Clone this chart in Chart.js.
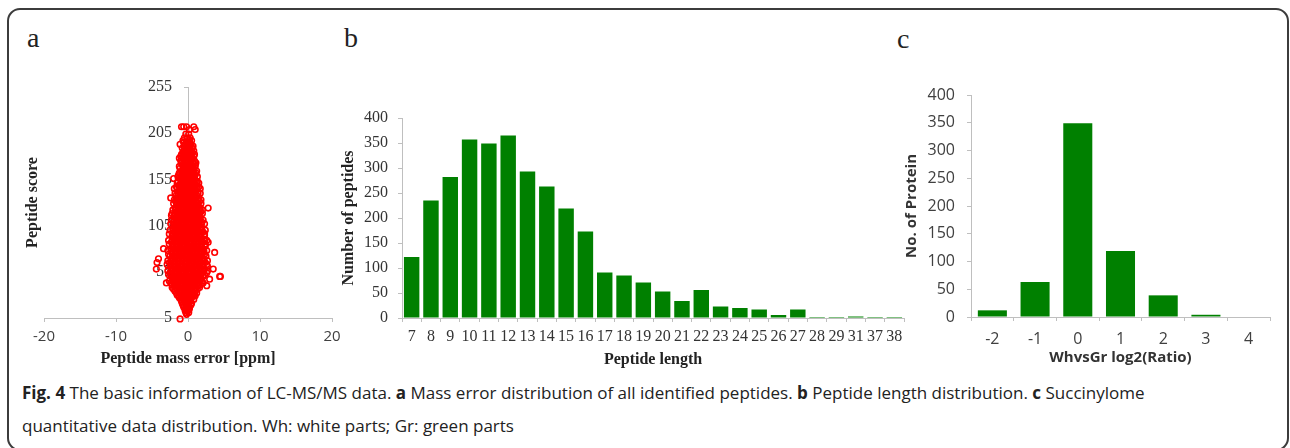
<!DOCTYPE html>
<html><head><meta charset="utf-8">
<script src="https://cdn.jsdelivr.net/npm/chart.js@4.4.1/dist/chart.umd.min.js"></script>
<style>
html,body{margin:0;padding:0;background:#fff;width:1290px;height:448px;overflow:hidden;}
#frame{position:absolute;left:7px;top:8px;width:1282px;height:443px;border:2px solid #3c3c3c;border-radius:13px;box-sizing:border-box;}
canvas{position:absolute;}
.lbl{position:absolute;font-family:'Liberation Serif','Times New Roman',serif;font-size:28px;line-height:28px;color:#222;}
#caption{position:absolute;left:22px;top:376px;font-family:'Open Sans',sans-serif;font-size:17px;line-height:33px;color:#222;white-space:nowrap;transform-origin:0 0;}
#caption b{font-weight:700;}
</style></head><body>
<div id="frame"></div>
<div class="lbl" style="left:27px;top:24px">a</div>
<div class="lbl" style="left:344px;top:24px">b</div>
<div class="lbl" style="left:897px;top:25px">c</div>
<canvas id="ca" width="330" height="300" style="left:20px;top:70px"></canvas>
<canvas id="cb" width="580" height="300" style="left:335px;top:70px"></canvas>
<canvas id="cc" width="400" height="310" style="left:880px;top:60px"></canvas>
<div id="caption"><span id="l1"><b>Fig. 4</b> The basic information of LC-MS/MS data. <b>a</b> Mass error distribution of all identified peptides. <b>b</b> Peptide length distribution. <b>c</b> Succinylome</span><br><span>quantitative data distribution. Wh: white parts; Gr: green parts</span></div>
<script>
// ---- Panel a: peptide score vs mass error ----
const errorTicks = [-20, -10, 0, 10, 20];
const scoreTicks = [5, 55, 105, 155, 205, 255];
const scoreLevels = [212,209,204,200,197,193,189,186,182,178,175,171,167,164,160,156,153,149,145,142,138,135,131,127,124,120,116,113,109,105,102,98,94,91,87,83,80,76,72,69,65,61,58,54,50,47,43,40,36,32,29,25,21,17,13,9,4];
const errorsAtLevel = [
 [-0.9,-0.6,-0.2,0.8],
 [0.2,1.0],
 [-0.3,0.1],
 [-0.5,-0.1,0.3],
 [-0.7,0.2,0.5],
 [-1.1,-0.4,0,0.4],
 [-0.8,-0.3,0.1,0.6],
 [-0.6,-0.1,0.3,0.8],
 [-0.9,-0.4,0,0.5,0.9],
 [-1.2,-0.7,-0.2,0.2,0.6],
 [-1.0,-0.5,-0.1,0.4,0.9],
 [-0.8,-0.3,0.1,0.5,1.0],
 [-1.1,-0.6,-0.2,0.3,0.7],
 [-0.9,-0.4,0,0.4,0.8,1.2],
 [-1.3,-0.8,-0.3,0.1,0.6,1.0],
 [-2.0,-1.1,-0.6,-0.1,0.3,0.8],
 [-1.4,-0.9,-0.4,0,0.5,1.0,1.3],
 [-1.2,-0.7,-0.2,0.2,0.7,1.1],
 [-1.9,-1.5,-1.0,-0.5,0,0.4,0.9,1.3,1.7],
 [-1.3,-0.8,-0.3,0.2,0.6,1.1],
 [-1.6,-1.1,-0.6,-0.1,0.3,0.8,1.2],
 [-2.4,-1.4,-0.9,-0.4,0.1,0.5,1.0,1.5],
 [-1.7,-1.2,-0.7,-0.2,0.2,0.7,1.2,1.6],
 [-1.5,-1.0,-0.5,0,0.4,0.9,1.4],
 [-1.8,-1.3,-0.8,-0.3,0.2,0.6,1.1,1.7,2.8],
 [-1.6,-1.1,-0.6,-0.1,0.3,0.8,1.3,1.8],
 [-2.3,-1.9,-1.4,-0.9,-0.4,0.1,0.5,1.0,1.5],
 [-1.7,-1.2,-0.7,-0.2,0.2,0.7,1.2,1.7],
 [-2.0,-1.5,-1.0,-0.5,0,0.4,0.9,1.4,1.9],
 [-1.8,-1.3,-0.8,-0.3,0.2,0.6,1.1,1.6],
 [-2.1,-1.6,-1.1,-0.6,-0.1,0.3,0.8,1.3,1.8],
 [-1.9,-1.4,-0.9,-0.4,0.1,0.5,1.0,1.5,2.1],
 [-2.2,-1.7,-1.2,-0.7,-0.2,0.2,0.7,1.2,1.7,2.3],
 [-2.0,-1.5,-1.0,-0.5,0,0.4,0.9,1.4,1.9],
 [-2.3,-1.8,-1.3,-0.8,-0.3,0.2,0.6,1.1,1.6,2.1,2.8],
 [-2.1,-1.6,-1.1,-0.6,-0.1,0.3,0.8,1.3,1.8,2.4],
 [-3.4,-2.4,-1.9,-1.4,-0.9,-0.4,0.1,0.5,1.0,1.5,2.0],
 [-2.2,-1.7,-1.2,-0.7,-0.2,0.2,0.7,1.2,1.7,2.2,3.7],
 [-2.5,-2.0,-1.5,-1.0,-0.5,0,0.4,0.9,1.4,1.9,2.5],
 [-4.1,-2.3,-1.8,-1.3,-0.8,-0.3,0.2,0.6,1.1,1.6,2.1],
 [-4.3,-2.6,-2.1,-1.6,-1.1,-0.6,-0.1,0.3,0.8,1.3,1.8,2.4],
 [-2.4,-1.9,-1.4,-0.9,-0.4,0.1,0.5,1.0,1.5,2.0,2.7],
 [-4.4,-2.2,-1.7,-1.2,-0.7,-0.2,0.2,0.7,1.2,1.7,2.3,3.5],
 [-2.5,-2.0,-1.5,-1.0,-0.5,0,0.4,0.9,1.4,1.9,2.6],
 [-2.3,-1.8,-1.3,-0.8,-0.3,0.2,0.6,1.1,1.6,2.1,4.4,4.5],
 [-2.1,-1.6,-1.1,-0.6,-0.1,0.3,0.8,1.3,1.8,3.0],
 [-3.0,-2.4,-1.9,-1.4,-0.9,-0.4,0.1,0.5,1.0,1.5,2.1],
 [-1.9,-1.4,-0.9,-0.4,0,0.4,0.9,1.4,2.6],
 [-2.0,-1.5,-1.0,-0.5,-0.1,0.3,0.8,1.3],
 [-1.6,-1.1,-0.6,-0.2,0.2,0.7,1.2],
 [-1.3,-0.8,-0.3,0.1,0.6,1.0],
 [-1.0,-0.5,-0.1,0.3,0.8],
 [-0.8,-0.3,0.1,0.5],
 [-0.6,-0.2,0.2],
 [-0.4,0],
 [-0.2],
 [-1.1]
];
// second, in-between layer of the dense core
const coreScoreLevels = [195,191,184,180,173,169,162,158,151,147,140,133,129,122,118,111,107,100,96,89,85,78,74,67,63,56,52,45,41,38,34,30,27,23,19,15,11];
const coreErrorsAtLevel = [
 [-0.6,-0.2,0.2],
 [-0.5,-0.1,0.3,0.7],
 [-0.7,-0.2,0.2,0.6],
 [-1.0,-0.5,0,0.4,0.8],
 [-0.9,-0.4,0,0.3,0.7,1.1],
 [-1.2,-0.7,-0.3,0.2,0.6,1.0],
 [-1.2,-0.7,-0.2,0.2,0.7,1.1],
 [-1.4,-0.9,-0.5,0,0.4,0.9,1.3],
 [-1.5,-1.0,-0.5,-0.1,0.3,0.8,1.2,1.5],
 [-1.6,-1.1,-0.6,-0.1,0.3,0.8,1.2,1.5],
 [-1.8,-1.4,-1.0,-0.5,0,0.4,0.9,1.4,1.7],
 [-1.9,-1.5,-1.0,-0.5,0,0.4,0.9,1.4,1.8],
 [-2.0,-1.6,-1.1,-0.6,-0.1,0.3,0.8,1.3,1.8],
 [-2.1,-1.7,-1.2,-0.7,-0.2,0.2,0.7,1.2,1.6,2.0],
 [-2.2,-1.8,-1.3,-0.8,-0.3,0.2,0.6,1.1,1.6,2.0],
 [-2.3,-1.9,-1.4,-0.9,-0.4,0.1,0.6,1.1,1.6,2.1],
 [-2.4,-2.0,-1.5,-1.0,-0.5,0,0.4,0.9,1.4,1.9,2.3],
 [-2.5,-2.0,-1.5,-1.0,-0.5,0,0.4,0.9,1.4,1.9,2.4],
 [-2.6,-2.1,-1.6,-1.1,-0.6,-0.1,0.3,0.8,1.3,1.8,2.3],
 [-2.7,-2.2,-1.7,-1.2,-0.7,-0.2,0.3,0.8,1.3,1.8,2.3,2.6],
 [-2.6,-2.1,-1.6,-1.1,-0.6,-0.1,0.4,0.9,1.4,1.9,2.4],
 [-2.8,-2.3,-1.8,-1.3,-0.8,-0.3,0.2,0.7,1.2,1.7,2.2,2.6],
 [-2.7,-2.2,-1.7,-1.2,-0.7,-0.2,0.3,0.8,1.3,1.8,2.3],
 [-2.8,-2.3,-1.8,-1.3,-0.8,-0.3,0.2,0.7,1.2,1.7,2.2,2.7],
 [-2.9,-2.4,-1.9,-1.4,-0.9,-0.4,0.1,0.6,1.1,1.6,2.1,2.6],
 [-2.8,-2.3,-1.8,-1.3,-0.8,-0.3,0.2,0.7,1.2,1.7,2.2,2.7],
 [-2.7,-2.2,-1.7,-1.2,-0.7,-0.2,0.3,0.8,1.3,1.8,2.3],
 [-2.6,-2.1,-1.6,-1.1,-0.6,-0.1,0.4,0.9,1.4,1.9],
 [-2.2,-1.7,-1.2,-0.7,-0.2,0.2,0.7,1.2,1.7],
 [-2.2,-1.7,-1.2,-0.7,-0.3,0.1,0.6,1.1,1.6],
 [-1.8,-1.3,-0.8,-0.4,0,0.5,1.0],
 [-1.5,-1.0,-0.5,-0.1,0.3,0.8],
 [-1.2,-0.7,-0.3,0.1,0.5],
 [-0.9,-0.5,-0.1,0.3],
 [-0.7,-0.3,0.1,0.4],
 [-0.4,0,0.2],
 [-0.3,0.1]
];
// ---- Panel b: peptide length distribution ----
const lengthCategories = ['7','8','9','10','11','12','13','14','15','16','17','18','19','20','21','22','23','24','25','26','27','28','29','31','37','38'];
const peptideCounts = [122,235,282,357,349,365,293,263,219,173,91,85,71,53,34,56,23,20,17,6,17,2,2,3,2,2];
const countTicks = [0,50,100,150,200,250,300,350,400];
// ---- Panel c: quantitative ratio distribution ----
const ratioCategories = ['-2','-1','0','1','2','3','4'];
const proteinCounts = [12,63,349,119,39,4,0];
const proteinTicks = [0,50,100,150,200,250,300,350,400];

const AXIS = '#bfbfbf';
const SERIF = "'Liberation Serif','Times New Roman',serif";
const SANS = "'Open Sans','Liberation Sans',sans-serif";
const GREEN = '#008000';
const setTicks = arr => s => { s.ticks = arr.map(v => ({value: v})); };

const scatterPoints = [];
scoreLevels.forEach((y, i) => errorsAtLevel[i].forEach(x => scatterPoints.push({x, y})));
coreScoreLevels.forEach((y, i) => coreErrorsAtLevel[i].forEach(x => scatterPoints.push({x, y})));

const common = {responsive:false, animation:false, events:[], plugins:{legend:{display:false}, tooltip:{enabled:false}}};

new Chart(document.getElementById('ca'), {
  type:'scatter',
  data:{datasets:[{data:scatterPoints, pointRadius:2.8, borderWidth:1.6, borderColor:'#ff0000', backgroundColor:'rgba(0,0,0,0)', clip:false}]},
  options:{...common,
    layout:{padding:{top:17, right:18, left:0, bottom:0}},
    scales:{
      x:{type:'linear', min:-20, max:20, afterBuildTicks:setTicks(errorTicks),
         ticks:{font:{family:SANS, size:15}, color:'#404040', padding:6, maxRotation:0},
         grid:{drawOnChartArea:false, drawTicks:true, tickLength:4, color:AXIS},
         border:{color:AXIS, width:1},
         title:{display:true, text:'Peptide mass error [ppm]', font:{family:SERIF, size:16, weight:'bold'}, color:'#222', padding:{top:0,bottom:2}},
         afterFit:s=>{s.height=52;}},
      y:{type:'linear', position:{x:0}, min:5, max:255, z:1, afterBuildTicks:setTicks(scoreTicks),
         ticks:{font:{family:SERIF, size:16}, color:'#333', callback:v => v + '    '},
         grid:{drawOnChartArea:false, drawTicks:true, tickLength:4, color:AXIS},
         border:{color:AXIS, width:1}},
      yt:{type:'linear', position:'left', min:0, max:1,
         ticks:{display:false}, grid:{display:false}, border:{display:false},
         title:{display:true, text:'Peptide score', font:{family:SERIF, size:16, weight:'bold'}, color:'#222', padding:{top:3,bottom:0}},
         afterFit:s=>{s.width=24;}}
    }}
});

new Chart(document.getElementById('cb'), {
  type:'bar',
  data:{labels:lengthCategories, datasets:[{data:peptideCounts, backgroundColor:GREEN, borderWidth:0, barPercentage:0.8, categoryPercentage:1.0}]},
  options:{...common,
    layout:{padding:{top:48, right:11, left:0, bottom:0}},
    scales:{
      x:{ticks:{font:{family:SERIF, size:16}, color:'#333', padding:5, autoSkip:false, maxRotation:0},
         grid:{drawOnChartArea:false, drawTicks:true, tickLength:4, color:AXIS, offset:true},
         border:{color:AXIS, width:1},
         title:{display:true, text:'Peptide length', font:{family:SERIF, size:16, weight:'bold'}, color:'#222', padding:{top:0,bottom:1}},
         afterFit:s=>{s.height=52;}},
      y:{min:0, max:400, afterBuildTicks:setTicks(countTicks),
         ticks:{font:{family:SERIF, size:16}, color:'#333', padding:10},
         grid:{drawOnChartArea:false, drawTicks:true, tickLength:4, color:AXIS},
         border:{color:AXIS, width:1},
         title:{display:true, text:'Number of peptides', font:{family:SERIF, size:16, weight:'bold'}, color:'#222', padding:{top:4,bottom:0}},
         afterFit:s=>{s.width=67;}}
    }}
});

new Chart(document.getElementById('cc'), {
  type:'bar',
  data:{labels:ratioCategories, datasets:[{data:proteinCounts, backgroundColor:GREEN, borderWidth:0, barPercentage:0.68, categoryPercentage:1.0}]},
  options:{...common,
    layout:{padding:{top:35, right:10, left:0, bottom:0}},
    scales:{
      x:{ticks:{font:{family:SANS, size:16}, color:'#404040', padding:9, autoSkip:false, maxRotation:0},
         grid:{drawOnChartArea:false, drawTicks:true, tickLength:4, color:AXIS, offset:true},
         border:{color:AXIS, width:1},
         title:{display:true, text:'WhvsGr log2(Ratio)', font:{family:SANS, size:15, weight:'bold'}, color:'#333', padding:{top:0,bottom:3}},
         afterFit:s=>{s.height=53;}},
      y:{min:0, max:400, afterBuildTicks:setTicks(proteinTicks),
         ticks:{font:{family:SANS, size:16}, color:'#404040', padding:12},
         grid:{drawOnChartArea:false, drawTicks:true, tickLength:4, color:AXIS},
         border:{color:AXIS, width:1},
         title:{display:true, text:'No. of Protein', font:{family:SANS, size:15, weight:'bold'}, color:'#333', padding:{top:23,bottom:0}},
         afterFit:s=>{s.width=91;}}
    }}
});

function fitCaption(){
  const cap = document.getElementById('caption');
  const w = document.getElementById('l1').getBoundingClientRect().width;
  cap.style.transform = 'scaleX(' + (1245 / w) + ')';
}
fitCaption();
if (document.fonts && document.fonts.ready) document.fonts.ready.then(fitCaption);
</script>
</body></html>
